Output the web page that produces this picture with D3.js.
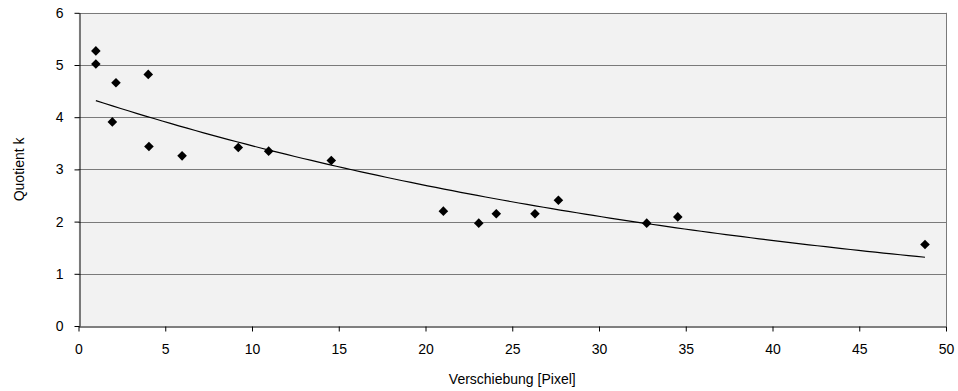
<!DOCTYPE html>
<html><head><meta charset="utf-8">
<script src="https://cdn.jsdelivr.net/npm/d3@7"></script>
<style>body{margin:0;background:#fff;} text{font-family:"Liberation Sans",Arial,sans-serif;}</style>
</head><body>
<svg id="c" width="958" height="391"></svg>
<script>
const xValues = [1.0, 1.0, 2.16, 1.95, 4.02, 4.06, 5.97, 9.21, 10.96, 14.57, 21.03, 23.07, 24.08, 26.31, 27.66, 32.75, 34.54, 48.79];
const yValues = [5.27, 5.02, 4.66, 3.91, 4.82, 3.44, 3.26, 3.42, 3.35, 3.17, 2.20, 1.97, 2.15, 2.15, 2.41, 1.97, 2.09, 1.56];
const xTicks = [0,5,10,15,20,25,30,35,40,45,50];
const yTicks = [0,1,2,3,4,5,6];
const xTitle = "Verschiebung [Pixel]";
const yTitle = "Quotient k";

const svg = d3.select("#c");
const L = 78.5, R = 946, T = 12.8, B = 326;
const x = d3.scaleLinear().domain([0,50]).range([L,R]);
const y = d3.scaleLinear().domain([0,6]).range([B,T]);

svg.append("rect").attr("x",L).attr("y",T).attr("width",R-L).attr("height",B-T).attr("fill","#f2f2f2");

svg.append("g").selectAll("line").data(yTicks.filter(d=>d>0)).join("line")
  .attr("x1",L).attr("x2",R).attr("y1",d=>Math.round(y(d))+0.5).attr("y2",d=>Math.round(y(d))+0.5)
  .attr("stroke","#7a7a7a").attr("stroke-width",1);
svg.append("line").attr("x1",Math.round(R)+0.5).attr("x2",Math.round(R)+0.5).attr("y1",T).attr("y2",B).attr("stroke","#7a7a7a");

const fontSize = 14;
const xa = svg.append("g").attr("transform",`translate(0,${Math.round(B)+0.5})`)
  .call(d3.axisBottom(x).tickValues(xTicks).tickFormat(d3.format("d")).tickSize(5).tickPadding(13).tickSizeOuter(0));
const ya = svg.append("g").attr("transform",`translate(${Math.round(L)+0.5},0)`)
  .call(d3.axisLeft(y).tickValues(yTicks).tickFormat(d3.format("d")).tickSize(5).tickPadding(11).tickSizeOuter(0));
[xa,ya].forEach(g=>{
  g.selectAll("text").attr("font-size",fontSize).attr("fill","#000").attr("font-family","Liberation Sans, Arial, sans-serif");
  g.selectAll("line,path").attr("stroke","#000");
});

// exponential trendline (least squares on ln y)
const n = xValues.length;
const ly = yValues.map(Math.log);
const mx = d3.mean(xValues), my = d3.mean(ly);
let sxy=0,sxx=0;
for(let i=0;i<n;i++){sxy+=(xValues[i]-mx)*(ly[i]-my);sxx+=(xValues[i]-mx)**2;}
const b = sxy/sxx, a = Math.exp(my-b*mx);
const xmin = d3.min(xValues), xmax = d3.max(xValues);
const pts = d3.range(0,101).map(i=>{const xv = xmin+(xmax-xmin)*i/100; return [xv, a*Math.exp(b*xv)];});
svg.append("path").attr("d",d3.line().x(d=>x(d[0])).y(d=>y(d[1]))(pts))
  .attr("fill","none").attr("stroke","#000").attr("stroke-width",1.2);

svg.append("g").selectAll("path").data(xValues.map((d,i)=>[d,yValues[i]])).join("path")
  .attr("d","M0,-4.8L4.8,0L0,4.8L-4.8,0Z")
  .attr("transform",d=>`translate(${x(d[0])},${y(d[1])})`).attr("fill","#000");

svg.append("text").attr("x",(L+R)/2).attr("y",384).attr("text-anchor","middle").attr("font-size",fontSize).text(xTitle);
svg.append("text").attr("transform",`translate(24,${(T+B)/2}) rotate(-90)`).attr("text-anchor","middle").attr("font-size",fontSize).text(yTitle);
</script>
</body></html>
